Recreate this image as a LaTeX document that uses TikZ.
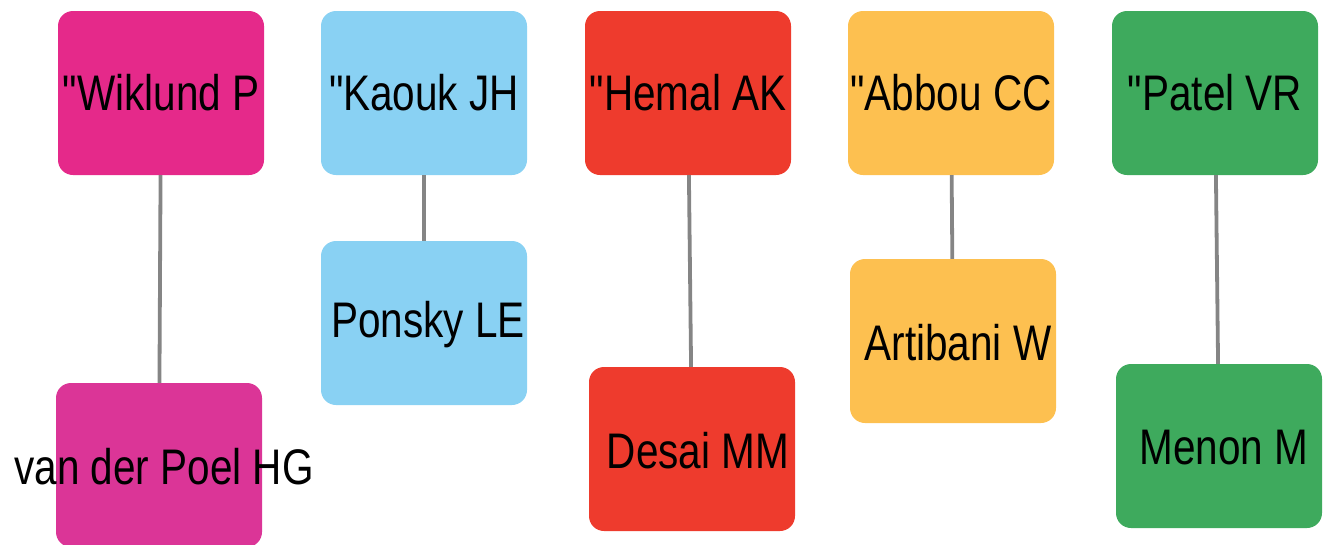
\documentclass[tikz,border=0pt]{standalone}
\usepackage{fontspec}
\newfontfamily\lblfont[FakeStretch=0.81]{Liberation Sans}
\definecolor{cMagA}{HTML}{E5298A}
\definecolor{cMagB}{HTML}{DB3597}
\definecolor{cBlue}{HTML}{89D1F3}
\definecolor{cRed}{HTML}{EE3B2D}
\definecolor{cOrange}{HTML}{FDC050}
\definecolor{cGreen}{HTML}{3EAA5D}
\definecolor{cEdge}{HTML}{858585}
\begin{document}
\begin{tikzpicture}[x=1pt,y=-1pt,
  box/.style={rounded corners=15pt, minimum width=206pt, minimum height=164pt, inner sep=0pt, draw=none},
  lbl/.style={inner sep=0pt, font=\lblfont\fontsize{50}{60}\selectfont, text=black},
  conn/.style={draw=cEdge, line width=3.8pt}]
\useasboundingbox (0,0) rectangle (1326,544);
\clip (0,0) rectangle (1326,544);
% boxes
\node[box, fill=cMagA]   (t1) at (161,93)  {};
\node[box, fill=cMagB]   (b1) at (159,465) {};
\node[box, fill=cBlue]   (t2) at (424,93)  {};
\node[box, fill=cBlue]   (b2) at (424,323) {};
\node[box, fill=cRed]    (t3) at (688,93)  {};
\node[box, fill=cRed]    (b3) at (692,449) {};
\node[box, fill=cOrange] (t4) at (951,93)  {};
\node[box, fill=cOrange] (b4) at (953,341) {};
\node[box, fill=cGreen]  (t5) at (1215,93) {};
\node[box, fill=cGreen]  (b5) at (1219,446) {};
% connectors
\draw[conn] (t1) -- (b1);
\draw[conn] (t2) -- (b2);
\draw[conn] (t3) -- (b3);
\draw[conn] (t4) -- (b4);
\draw[conn] (t5) -- (b5);
% labels
\node[lbl] (l1) at (161,93)  {"Wiklund P};
\node[lbl] (m1) at (164,467) {van der Poel HG};
\node[lbl] (l2) at (424,93)  {"Kaouk JH};
\node[lbl] (m2) at (428,325) {Ponsky LE};
\node[lbl] (l3) at (688,93)  {"Hemal AK};
\node[lbl] (m3) at (698,451) {Desai MM};
\node[lbl] (l4) at (951,93)  {"Abbou CC};
\node[lbl] (m4) at (958,343) {Artibani W};
\node[lbl] (l5) at (1215,93) {"Patel VR};
\node[lbl] (m5) at (1224,448) {Menon M};
\end{tikzpicture}
\end{document}
